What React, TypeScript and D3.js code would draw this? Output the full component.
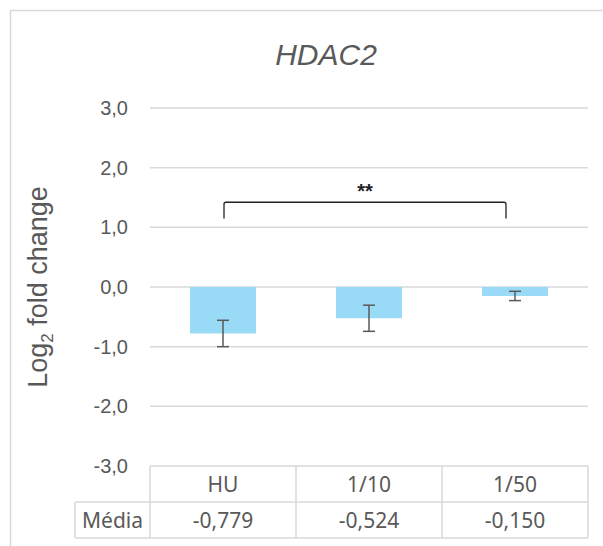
import { useEffect, useRef } from "react";
import * as d3 from "d3";

const categories = ["HU", "1/10", "1/50"];
const means = [-0.779, -0.524, -0.15];
const errors = [0.221, 0.219, 0.078];
const meanLabels = ["-0,779", "-0,524", "-0,150"];
const yTicks = [3, 2, 1, 0, -1, -2, -3];
const sigLabel = "**";
const sigPair = ["HU", "1/50"];

const grey = "#595959";
const lineGrey = "#D9D9D9";
const axisFont = "'Liberation Sans', Arial, sans-serif";
const tableFont = "'Noto Sans', 'Open Sans', sans-serif";

function draw(node: SVGSVGElement) {
  const w = 603,
    h = 546;
  const svg = d3.select(node);
  svg.selectAll("*").remove();
  svg.attr("width", w).attr("height", h);

  const left = 150,
    right = 588,
    top = 108,
    bottom = 466;
  const rowH = 36;

  const x = d3.scaleBand().domain(categories).range([left, right]);
  const y = d3.scaleLinear().domain([-3, 3]).range([bottom, top]);
  const barW = 66;

  // chart frame
  svg
    .append("rect")
    .attr("x", 10.5)
    .attr("y", 10.5)
    .attr("width", 620)
    .attr("height", 560)
    .attr("fill", "white")
    .attr("stroke", lineGrey)
    .attr("stroke-width", 1.5);

  svg
    .append("text")
    .attr("x", 326)
    .attr("y", 65)
    .attr("text-anchor", "middle")
    .attr("font-family", axisFont)
    .attr("font-style", "italic")
    .attr("font-size", 30)
    .attr("fill", grey)
    .text("HDAC2");

  // gridlines
  yTicks.slice(0, -1).forEach((t) => {
    svg
      .append("line")
      .attr("x1", left)
      .attr("x2", right)
      .attr("y1", y(t))
      .attr("y2", y(t))
      .attr("stroke", lineGrey)
      .attr("stroke-width", 1.5);
  });

  svg
    .selectAll(".tick")
    .data(yTicks)
    .join("text")
    .attr("x", 128)
    .attr("y", (d) => y(d) + 7)
    .attr("text-anchor", "end")
    .attr("font-family", axisFont)
    .attr("font-size", 20)
    .attr("fill", grey)
    .text((d) => d3.format(".1f")(d).replace(".", ",").replace("−", "-"));

  const yt = svg
    .append("text")
    .attr("transform", `translate(47,${287}) rotate(-90)`)
    .attr("text-anchor", "middle")
    .attr("font-family", axisFont)
    .attr("font-size", 27)
    .attr("fill", grey);
  yt.append("tspan").text("Log");
  yt.append("tspan").attr("font-size", 17).attr("dy", 6).text("2");
  yt.append("tspan").attr("dy", -6).text(" fold change");

  // bars
  svg
    .selectAll(".bar")
    .data(categories)
    .join("rect")
    .attr("x", (d) => x(d)! + x.bandwidth() / 2 - barW / 2)
    .attr("width", barW)
    .attr("y", y(0))
    .attr("height", (d, i) => y(means[i]) - y(0))
    .attr("fill", "#99DAF6");

  // error bars
  const eb = svg
    .selectAll(".eb")
    .data(categories)
    .join("g")
    .attr("stroke", grey)
    .attr("stroke-width", 1.5);
  eb.append("line")
    .attr("x1", (d) => x(d)! + x.bandwidth() / 2)
    .attr("x2", (d) => x(d)! + x.bandwidth() / 2)
    .attr("y1", (d, i) => y(means[i] + errors[i]))
    .attr("y2", (d, i) => y(means[i] - errors[i]));
  [1, -1].forEach((s) => {
    eb.append("line")
      .attr("x1", (d) => x(d)! + x.bandwidth() / 2 - 6)
      .attr("x2", (d) => x(d)! + x.bandwidth() / 2 + 6)
      .attr("y1", (d, i) => y(means[i] + s * errors[i]))
      .attr("y2", (d, i) => y(means[i] + s * errors[i]));
  });

  // significance bracket
  const bx1 = x(sigPair[0])! + x.bandwidth() / 2 + 1;
  const bx2 = x(sigPair[1])! + x.bandwidth() / 2 - 9;
  const by = y(1.42);
  svg
    .append("path")
    .attr("d", `M${bx1},${y(1.15)} L${bx1},${by + 2} Q${bx1},${by} ${bx1 + 2},${by} L${bx2 - 2},${by} Q${bx2},${by} ${bx2},${by + 2} L${bx2},${y(1.15)}`)
    .attr("fill", "none")
    .attr("stroke", "#222")
    .attr("stroke-width", 1.3);
  svg
    .append("text")
    .attr("x", (bx1 + bx2) / 2)
    .attr("y", by - 4)
    .attr("text-anchor", "middle")
    .attr("font-family", axisFont)
    .attr("font-weight", "bold")
    .attr("font-size", 20)
    .attr("fill", "#222")
    .text(sigLabel);

  // data table
  const tb = svg.append("g").attr("stroke", lineGrey).attr("stroke-width", 1.5).attr("fill", "none");
  tb.append("line").attr("x1", left).attr("x2", right).attr("y1", bottom).attr("y2", bottom);
  tb.append("line").attr("x1", 75).attr("x2", right).attr("y1", bottom + rowH).attr("y2", bottom + rowH);
  tb.append("line").attr("x1", 75).attr("x2", right).attr("y1", bottom + 2 * rowH).attr("y2", bottom + 2 * rowH);
  tb.append("line").attr("x1", 75).attr("x2", 75).attr("y1", bottom + rowH).attr("y2", bottom + 2 * rowH);
  [left, ...categories.map((c) => x(c)! + x.bandwidth())].forEach((xx) => {
    tb.append("line").attr("x1", xx).attr("x2", xx).attr("y1", bottom).attr("y2", bottom + 2 * rowH);
  });

  const tt = svg
    .append("g")
    .attr("font-family", tableFont)
    .attr("font-size", 21)
    .attr("fill", grey)
    .attr("text-anchor", "middle");
  categories.forEach((c, i) => {
    tt.append("text")
      .attr("x", x(c)! + x.bandwidth() / 2)
      .attr("y", bottom + rowH / 2 + 8)
      .text(c);
    tt.append("text")
      .attr("x", x(c)! + x.bandwidth() / 2)
      .attr("y", bottom + rowH * 1.5 + 8)
      .text(meanLabels[i]);
  });
  tt.append("text")
    .attr("x", 112.5)
    .attr("y", bottom + rowH * 1.5 + 8)
    .text("Média");
}

export default function App() {
  const ref = useRef<SVGSVGElement>(null);
  useEffect(() => {
    if (ref.current) draw(ref.current);
  }, []);
  return <svg ref={ref} style={{ position: "absolute", left: 0, top: 0 }} />;
}
